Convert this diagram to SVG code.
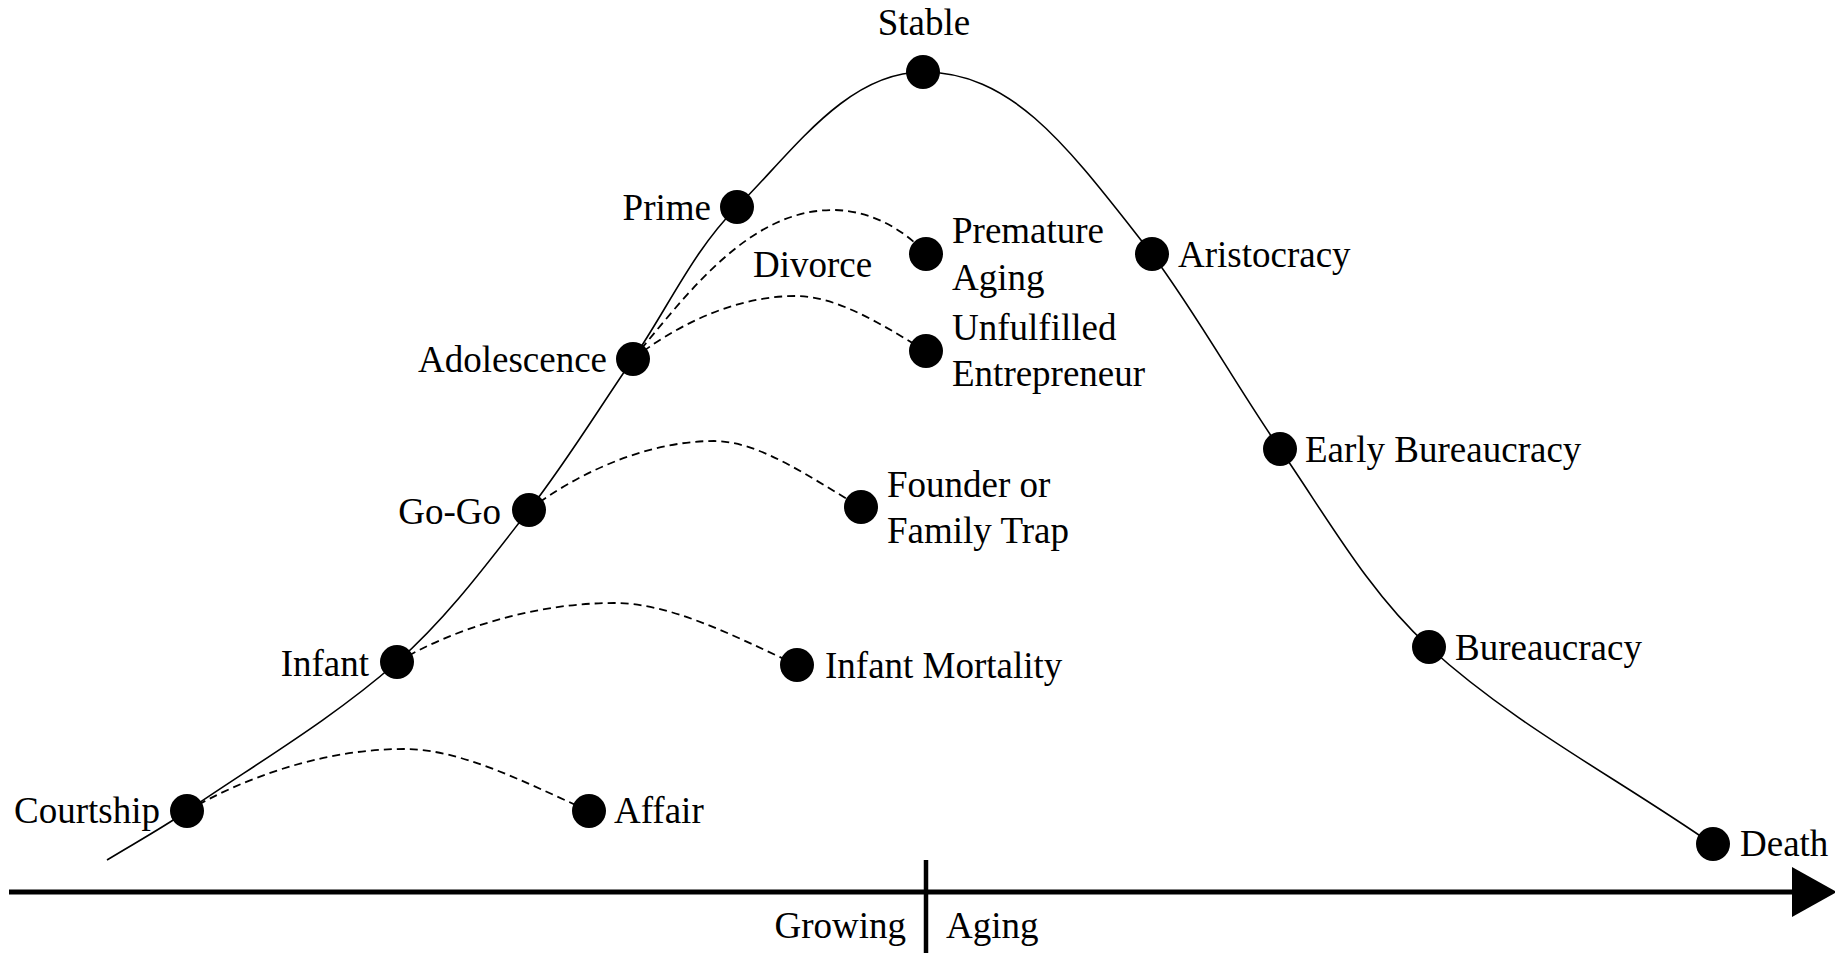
<svg xmlns="http://www.w3.org/2000/svg" width="1835" height="953" viewBox="0 0 1835 953">
<style>
text{font-family:"Liberation Serif","Times New Roman",serif;font-size:37px;fill:#000}
.dot{fill:#000}
.main{fill:none;stroke:#000;stroke-width:1.6}
.dash{fill:none;stroke:#000;stroke-width:1.8;stroke-dasharray:8 5}
.axis{stroke:#000;stroke-width:5;fill:none}
.e{text-anchor:end}
.m{text-anchor:middle}
</style>
<defs>
<marker id="arr" markerUnits="userSpaceOnUse" markerWidth="46" markerHeight="50" refX="0" refY="25" orient="auto">
<path d="M0,0 L45,25 L0,50 Z" fill="#000"/>
</marker>
</defs>
<rect width="1835" height="953" fill="#fff"/>
<g id="connectors">
<path class="main" d="M107,860 C133.7,843.7 161.1,828.7 187,811 C257.9,762.6 332.6,718.7 397,662 C447.4,617.6 487.7,562.9 529,510 C566.6,461.8 598.4,409.3 633,359 C667.8,308.4 693.3,250.2 737,207 C791.5,153.1 846.4,72 923,72 C1015,72 1070,150 1152,254 C1198.3,316.6 1235.8,385 1280,449 C1326.9,517 1368,591.2 1429,647 C1513.8,724.6 1617.7,778.3 1712,844"/>
<path class="dash" d="M187,811 C240,780 320,749 404,749 C460,749 520,780 589,811"/>
<path class="dash" d="M397,662 C450,631 530,603 614,603 C670,603 730,634 797,665"/>
<path class="dash" d="M529,510 C573,476 644,441 714,441 C760,441 810,478 861,507"/>
<path class="dash" d="M633,359 C670,330 730,296 796,296 C840,296 890,330 926,351"/>
<path class="dash" d="M633,359 C690,290 750,210 833,210 C870,210 905,230 926,254"/>
<line class="axis" x1="9" y1="892" x2="1792" y2="892" marker-end="url(#arr)"/>
<line x1="926" y1="860" x2="926" y2="953" stroke="#000" stroke-width="4.5"/>
</g>
<g id="stable"><circle class="dot" cx="923" cy="72" r="17"/><text class="m" x="924" y="35">Stable</text></g>
<g id="prime"><circle class="dot" cx="737" cy="207" r="17"/><text class="e" x="711" y="220">Prime</text></g>
<g id="adolescence"><circle class="dot" cx="633" cy="359" r="17"/><text class="e" x="607" y="372">Adolescence</text></g>
<g id="gogo"><circle class="dot" cx="529" cy="510" r="17"/><text class="e" x="501" y="524">Go-Go</text></g>
<g id="infant"><circle class="dot" cx="397" cy="662" r="17"/><text class="e" x="369" y="676">Infant</text></g>
<g id="courtship"><circle class="dot" cx="187" cy="811" r="17"/><text x="14" y="823">Courtship</text></g>
<g id="affair"><circle class="dot" cx="589" cy="811" r="17"/><text x="614" y="823">Affair</text></g>
<g id="infant-mortality"><circle class="dot" cx="797" cy="665" r="17"/><text x="825" y="678">Infant Mortality</text></g>
<g id="founder-trap"><circle class="dot" cx="861" cy="507" r="17"/><text x="887" y="497">Founder or</text><text x="887" y="543">Family Trap</text></g>
<g id="premature-aging"><circle class="dot" cx="926" cy="254" r="17"/><text x="952" y="243">Premature</text><text x="952" y="290">Aging</text></g>
<g id="divorce"><text x="753" y="277">Divorce</text></g>
<g id="unfulfilled"><circle class="dot" cx="926" cy="351" r="17"/><text x="952" y="340">Unfulfilled</text><text x="952" y="386">Entrepreneur</text></g>
<g id="aristocracy"><circle class="dot" cx="1152" cy="254" r="17"/><text x="1178" y="267">Aristocracy</text></g>
<g id="early-bureaucracy"><circle class="dot" cx="1280" cy="449" r="17"/><text x="1305" y="462">Early Bureaucracy</text></g>
<g id="bureaucracy"><circle class="dot" cx="1429" cy="647" r="17"/><text x="1455" y="660">Bureaucracy</text></g>
<g id="death"><circle class="dot" cx="1713" cy="844" r="17"/><text x="1740" y="856">Death</text></g>
<g id="axis-labels"><text class="e" x="906" y="938">Growing</text><text x="946" y="938">Aging</text></g>
</svg>
